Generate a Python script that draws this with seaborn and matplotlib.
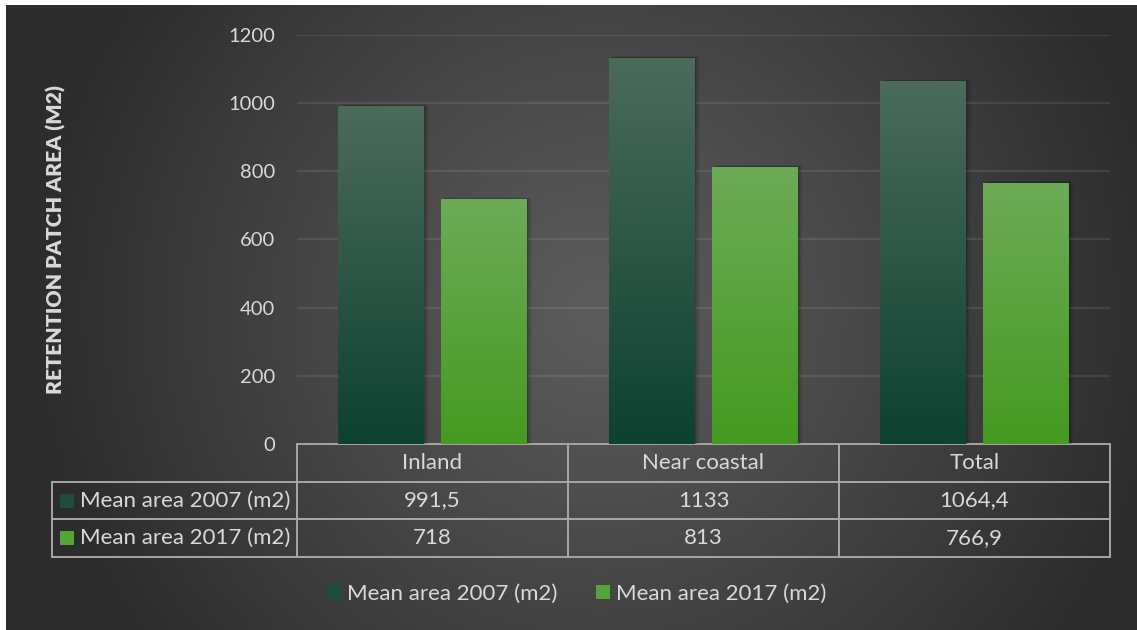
import numpy as np
import pandas as pd
import matplotlib
matplotlib.use("Agg")
import matplotlib.pyplot as plt
import seaborn as sns
from matplotlib.table import Table
from matplotlib.patches import Rectangle
from matplotlib.colors import LinearSegmentedColormap

# ---- data -------------------------------------------------------------
categories = ["Inland", "Near coastal", "Total"]
series = ["Mean area 2007 (m2)", "Mean area 2017 (m2)"]
area_2007 = [991.5, 1133, 1064.4]
area_2017 = [718, 813, 766.9]
table_2007 = ["991,5", "1133", "1064,4"]
table_2017 = ["718", "813", "766,9"]
y_ticks = [0, 200, 400, 600, 800, 1000, 1200]
y_label = "RETENTION PATCH AREA (M2)"

# ---- style ------------------------------------------------------------
sns.set_theme(style="white")
plt.rcParams["font.family"] = ["Lato", "DejaVu Sans"]
TEXT = "#d9d9d9"
FS = 16
bar_top = {series[0]: "#4b6b5b", series[1]: "#6cab57"}
bar_bottom = {series[0]: "#0d4130", series[1]: "#459a20"}
legend_color = {series[0]: "#1d4d3b", series[1]: "#55a436"}

W, H, DPI = 1137, 630, 100
fig = plt.figure(figsize=(W / DPI, H / DPI), dpi=DPI)
fig.patch.set_facecolor("white")

# radial grey background
bg = fig.add_axes([0, 0, 1, 1], zorder=-5)
yy, xx = np.mgrid[0:H, 0:W]
d = np.sqrt(((xx - 600) / 570.0) ** 2 + ((yy - 310) / 560.0) ** 2)
d = np.clip(d, 0, 1)
val = (92 - 48 * d ** 1.1) / 255.0
img = np.dstack([val, val, val])
img[:5, :, :] = 1.0
img[:, :6, :] = 1.0
bg.imshow(img, extent=[0, W, H, 0], aspect="auto", interpolation="bilinear")
bg.set_xlim(0, W)
bg.set_ylim(H, 0)
bg.axis("off")

# ---- bars -------------------------------------------------------------
df = pd.DataFrame({
    "category": categories * 2,
    "series": [series[0]] * 3 + [series[1]] * 3,
    "area": area_2007 + area_2017,
})

ax = fig.add_axes([297 / W, (H - 444) / H, 813 / W, 409 / H])
ax.set_facecolor("none")
sns.barplot(data=df, x="category", y="area", hue="series", order=categories,
            hue_order=series, width=0.76, gap=0.174, ax=ax, legend=False,
            errorbar=None, zorder=3)

ax.set_ylim(0, 1200)
ax.set_yticks(y_ticks)
ax.set_yticklabels([str(t) for t in y_ticks])
ax.set_xticklabels([])
ax.set_xlabel("")
ax.tick_params(axis="y", length=0, pad=16, labelsize=14.5, labelcolor=TEXT)
ax.tick_params(axis="x", length=0)
for s in ax.spines.values():
    s.set_visible(False)
for t in y_ticks[1:]:
    ax.axhline(t, color="white", alpha=0.09, lw=1.6, zorder=1)

ax.set_ylabel(y_label, color=TEXT, fontsize=15.3, fontweight="heavy")
ax.yaxis.set_label_coords((66 - 297) / 813, 0.5)

# vertical gradient fills with a soft shadow
for name, container in zip(series, ax.containers):
    cmap = LinearSegmentedColormap.from_list(name, [bar_bottom[name], bar_top[name]])
    grad = np.linspace(0, 1, 256).reshape(-1, 1)
    for patch in container:
        x, y0 = patch.get_x(), patch.get_y()
        w, h = patch.get_width(), patch.get_height()
        for k, a in zip(range(1, 6), [0.10, 0.08, 0.06, 0.04, 0.03]):
            ax.add_patch(Rectangle((x + 0.004 * k, y0), w, h + 1.2 * k,
                                   facecolor="black", alpha=a, lw=0, zorder=2))
        patch.set_facecolor("none")
        patch.set_edgecolor("none")
        im = ax.imshow(grad, cmap=cmap, origin="lower", aspect="auto",
                       extent=[x, x + w, y0, y0 + h], zorder=3)
        im.set_clip_path(patch)
ax.set_xlim(-0.5, 2.5)
ax.set_ylim(0, 1200)

# ---- data table (grid of values under the axes, labels hang to the left) --
row_h = 37.7 / 409
label_w = 245 / 813
col_w = 1 / 3
table = Table(ax, bbox=[0, -3 * row_h, 1, 3 * row_h])
rows = [table_2007, table_2017]
for j, cat in enumerate(categories):
    table.add_cell(0, j, width=col_w, height=row_h, text=cat, loc="center")
for i, (name, vals) in enumerate(zip(series, rows), start=1):
    table.add_cell(i, -1, width=label_w, height=row_h, text=name, loc="left")
    for j, v in enumerate(vals):
        table.add_cell(i, j, width=col_w, height=row_h, text=v, loc="center")
table.auto_set_font_size(False)
table.set_fontsize(FS)
for (r, c), cell in table.get_celld().items():
    cell.set_facecolor("none")
    cell.set_edgecolor("#a6a6a6")
    cell.set_linewidth(1.4)
    cell.get_text().set_color(TEXT)
    cell.get_text().set_fontfamily(["Lato", "DejaVu Sans"])
    if c == -1:
        cell.PAD = 0.114
table.set_clip_on(False)
ax.add_table(table)

# colour keys inside the row labels
for i, name in enumerate(series):
    yc = -row_h * (i + 1.5)
    ax.add_patch(Rectangle(((60 - 297) / 813, yc - 7 / 409), 14 / 813, 14 / 409,
                           transform=ax.transAxes, facecolor=legend_color[name],
                           lw=0, clip_on=False, zorder=5))

# ---- legend -----------------------------------------------------------
handles = [Rectangle((0, 0), 1, 1, facecolor=legend_color[n], lw=0) for n in series]
fig.legend(handles, series, loc="center", bbox_to_anchor=(577 / W, 1 - 594 / H),
           ncol=2, frameon=False, fontsize=FS, labelcolor=TEXT,
           handlelength=0.63, handleheight=0.63, handletextpad=0.27,
           columnspacing=1.75)

fig.savefig("out.png", dpi=DPI)
